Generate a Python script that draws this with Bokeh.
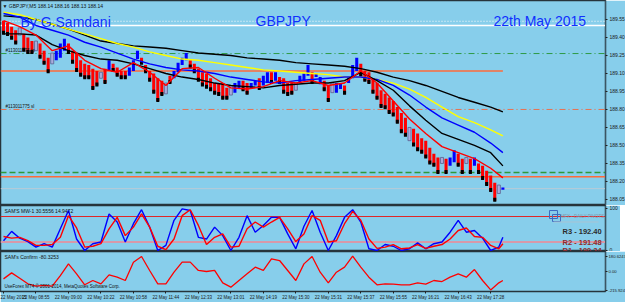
from bokeh.plotting import figure
from bokeh.layouts import column
from bokeh.models import Range1d, FixedTicker, Span, Label, PrintfTickFormatter, ColumnDataSource
from bokeh.embed import file_html
from bokeh.resources import INLINE

# ---------------- data ----------------
symbol = "GBPJPY"
timeframe = "M5"
ohlc_now = [188.14, 188.16, 188.13, 188.14]
author = "By G.Samdani"
date_text = "22th May 2015"

# Heiken-Ashi style body extents (top / bottom of each bar)
body_high = [189.54, 189.52, 189.49, 189.46, 189.48, 189.43, 189.40, 189.37, 189.37, 189.35,
             189.29, 189.23, 189.27, 189.29, 189.35, 189.39, 189.35, 189.29, 189.27, 189.21,
             189.18, 189.17, 189.14, 189.12, 189.11, 189.14, 189.21, 189.18, 189.15, 189.12,
             189.12, 189.15, 189.21, 189.29, 189.23, 189.17, 189.12, 189.10, 189.06, 189.04,
             189.02, 189.08, 189.12, 189.19, 189.23, 189.27, 189.21, 189.18, 189.14, 189.11,
             189.10, 189.06, 189.02, 189.02, 189.02, 188.98, 189.00, 189.02, 189.04, 189.04,
             189.02, 189.02, 189.04, 189.06, 189.08, 189.11, 189.11, 189.11, 189.07, 189.06,
             189.02, 189.02, 189.02, 189.08, 189.10, 189.17, 189.11, 189.10, 189.07, 189.04,
             189.00, 189.02, 189.02, 189.02, 189.00, 189.07, 189.17, 189.23, 189.18, 189.12,
             189.11, 189.06, 189.02, 188.96, 188.93, 188.90, 188.87, 188.82, 188.77, 188.73,
             188.65, 188.64, 188.60, 188.56, 188.54, 188.48, 188.43, 188.40, 188.40, 188.39,
             188.40, 188.46, 188.43, 188.39, 188.40, 188.39, 188.40, 188.35, 188.33, 188.29,
             188.25, 188.19, 188.17, 188.15]
body_low = [189.43, 189.42, 189.39, 189.35, 189.42, 189.29, 189.27, 189.27, 189.29, 189.23,
            189.18, 189.11, 189.18, 189.21, 189.23, 189.29, 189.27, 189.19, 189.12, 189.08,
            189.06, 189.06, 188.97, 189.00, 189.06, 189.02, 189.12, 189.12, 189.08, 189.06,
            189.06, 189.08, 189.12, 189.22, 189.18, 189.11, 189.04, 188.94, 188.87, 188.92,
            188.93, 189.02, 189.06, 189.11, 189.17, 189.21, 189.15, 189.11, 189.04, 189.00,
            188.98, 188.96, 188.93, 188.92, 188.89, 188.89, 188.92, 188.94, 188.97, 188.96,
            188.93, 188.97, 189.00, 188.97, 189.00, 189.02, 189.02, 189.04, 189.02, 188.94,
            188.92, 188.93, 188.96, 189.02, 189.04, 189.08, 189.02, 189.07, 189.01, 188.96,
            188.87, 188.94, 188.94, 188.97, 188.93, 189.02, 189.06, 189.12, 189.08, 189.04,
            189.02, 188.94, 188.89, 188.82, 188.81, 188.77, 188.75, 188.69, 188.61, 188.58,
            188.54, 188.50, 188.46, 188.44, 188.40, 188.35, 188.33, 188.27, 188.35, 188.27,
            188.33, 188.36, 188.33, 188.27, 188.35, 188.27, 188.33, 188.27, 188.22, 188.17,
            188.12, 188.04, 188.10, 188.13]
# r = bearish (red), b = bullish (blue), g = small grey candle
kinds = list("rrrrgrrrgrrrg" "bbb" "rrrrrrrr" "g" "r" "b" "rrrr" "bbb" "rrrrrr" "g" "r" "bbbb"
             "rrrrrrrrrr" "g" "bb" "rr" "bb" "r" "bb" "r" "b" "rrrr" "g" "bbb" "r" "bb" "rr" "g"
             "bb" "r" "bbb" "rrrrrrrrrrrr" "g" "rrrrrrr" "g" "r" "bb" "rr" "g" "r" "b" "rrrrr" "g" "b")

# moving averages, read every 4 bars (plus last bar)
ma_bars = list(range(0, 121, 4)) + [123]
ma_yellow = [189.61, 189.59, 189.55, 189.51, 189.47, 189.43, 189.39, 189.35, 189.32, 189.28,
             189.25, 189.22, 189.21, 189.19, 189.17, 189.15, 189.13, 189.12, 189.11, 189.10,
             189.09, 189.07, 189.07, 189.05, 189.02, 188.97, 188.90, 188.82, 188.74, 188.69,
             188.63, 188.58]
ma_blue = [189.60, 189.57, 189.50, 189.46, 189.42, 189.36, 189.32, 189.27, 189.22, 189.18,
           189.15, 189.13, 189.12, 189.10, 189.07, 189.05, 189.03, 189.02, 189.04, 189.05,
           189.06, 189.07, 189.07, 189.05, 189.00, 188.92, 188.82, 188.73, 188.67, 188.61,
           188.52, 188.44]
ma_black_slow = [189.58, 189.57, 189.55, 189.51, 189.47, 189.42, 189.37, 189.35, 189.33, 189.32,
                 189.31, 189.29, 189.27, 189.26, 189.25, 189.23, 189.22, 189.21, 189.19, 189.18,
                 189.17, 189.16, 189.14, 189.11, 189.07, 189.04, 189.00, 188.95, 188.90, 188.86,
                 188.82, 188.78]
ma_black_fast = [189.43, 189.43, 189.42, 189.34, 189.29, 189.25, 189.22, 189.21, 189.18, 189.14,
                 189.10, 189.07, 189.05, 189.02, 189.00, 188.99, 188.98, 189.00, 189.01, 189.02,
                 189.02, 189.04, 189.11, 189.04, 188.96, 188.83, 188.71, 188.60, 188.55, 188.50,
                 188.44, 188.33]
ma_red = [189.54, 189.49, 189.42, 189.29, 189.33, 189.21, 189.14, 189.11, 189.19, 189.11,
          189.00, 189.14, 189.15, 189.06, 188.98, 188.97, 188.99, 189.04, 189.02, 189.04,
          189.00, 189.02, 189.12, 189.02, 188.87, 188.72, 188.60, 188.49, 188.44, 188.39,
          188.31, 188.23]

# oscillators, read every 2 bars (plus last bar)
osc_bars = list(range(0, 123, 2)) + [123]
mw_fast = [23, 45, 29, 21, 8, 16, 8, 51, 94, 27, 0, 16, 20, 86, 67, 20, 63, 96, 55, 0,
           12, 71, 98, 94, 31, 27, 55, 35, 0, 31, 82, 43, 59, 78, 78, 39, 4, 57, 94, 43,
           0, 35, 78, 96, 67, 4, 0, 14, 10, 0, 4, 18, 4, 16, 20, 43, 71, 43, 47, 29,
           0, 8, 31]
mw_slow = [33, 29, 31, 23, 12, 12, 14, 31, 82, 53, 8, 10, 16, 51, 78, 35, 55, 86, 55, 10,
           2, 27, 82, 96, 59, 14, 31, 39, 8, 10, 51, 67, 55, 67, 78, 51, 21, 39, 82, 71,
           20, 23, 63, 92, 71, 27, 5, 8, 14, 4, 6, 14, 5, 10, 14, 27, 47, 53, 33, 31,
           12, 4, 16]
confirm = [-86, -16, -78, -144, -171, -163, -171, -47, 89, -27, -155, -105, -144, -39, -66, -105,
           109, 175, 12, -144, -144, -8, 109, 109, 12, 0, 12, -132, -183, -105, -27, 51, 12, 148,
           128, 12, -105, 89, 175, -8, -132, -8, 51, 180, 51, -66, -155, -144, -148, -155, -155,
           -132, -148, -105, -117, -66, -27, -66, 23, -105, -215, -132, -105]

price_ticks = [188.05, 188.20, 188.35, 188.50, 188.65, 188.80, 188.95, 189.10, 189.25, 189.40, 189.55]
time_ticks = list(range(0, 121, 8))
time_labels = ["22 May 2015", "22 May 08:55", "22 May 09:00", "22 May 10:22", "22 May 10:58",
               "22 May 11:44", "22 May 12:33", "22 May 13:01", "22 May 14:19", "22 May 15:30",
               "22 May 15:31", "22 May 15:37", "22 May 15:55", "22 May 16:21", "22 May 16:43",
               "22 May 17:28"]

level_white = 189.50
level_dotted = 189.535
level_tp = 189.266
level_orange_top = 189.12
level_sl = 188.80
level_green = 188.275
level_orange = 188.24
level_bid = 188.14
order_label = "#113011775"
mw_levels = [80, 20]
mw_values = [30.5556, 14.9472]
confirm_value = -80.3253
confirm_ticks = [180.6243, 0.0, -215.924]
confirm_tick_labels = ["180.6243", "0.00", "-215.924"]
pivots = [("R3", 192.40), ("R2", 191.48), ("R1", 190.34)]

# ---------------- layout helpers ----------------
BG = "#87CEEB"
FONT = "Liberation Sans"
BLUE_TXT = "#1030ff"
W = 605
BAR_PX = 4.06
X_START = -0.74
X_END = X_START + W / BAR_PX
PRICE_TOP = 189.708
PX_PER_PRICE = 120.0
MAIN_H, P1_H, P2_H = 205, 46, 40


def sx(px):
    return X_START + px / BAR_PX


def sy(py):
    return PRICE_TOP - py / PX_PER_PRICE


def p1y(py):
    return (250 - py) / 0.425


def p2y(py):
    return (271 - py) / 0.0857


xr = Range1d(X_START, X_END)


def make_fig(h, yr, xaxis=False):
    p = figure(frame_width=W, frame_height=h, x_range=xr, y_range=yr,
               output_backend="svg", toolbar_location=None,
               x_axis_location="below" if xaxis else None, y_axis_location="right",
               min_border=0, background_fill_color=BG, border_fill_color=BG,
               outline_line_color="#26343b", outline_line_width=1.5)
    p.grid.visible = False
    for ax in p.axis:
        ax.axis_line_color = "#3b5563"
        ax.axis_line_width = 1
        ax.major_tick_in = 0
        ax.major_tick_out = 2
        ax.major_tick_line_color = "#222222"
        ax.minor_tick_line_color = None
        ax.major_label_text_font = FONT
        ax.major_label_text_font_size = "5px"
        ax.major_label_text_color = "#1a1a1a"
        ax.major_label_standoff = 2
    return p


def lab(p, x, y, text, size, color="#111111", **kw):
    p.add_layout(Label(x=x, y=y, text=text, text_font=FONT, text_font_size=size,
                       text_color=color, text_baseline=kw.pop("baseline", "middle"), **kw))


# ---------------- main price panel ----------------
main = make_fig(MAIN_H, Range1d(PRICE_TOP - MAIN_H / PX_PER_PRICE, PRICE_TOP))
main.yaxis.ticker = FixedTicker(ticks=price_ticks)
main.yaxis.formatter = PrintfTickFormatter(format="%.2f")

for loc, col, wdt, dash in [(level_white, "white", 1.5, "solid"),
                            (level_dotted, "white", 1, "1 2"),
                            (level_tp, "#2e9a46", 1, "6 3 1 3"),
                            (level_sl, "#e8704f", 1, "6 3 1 3"),
                            (level_green, "#2e9a3a", 1.5, "6 3"),
                            (level_orange, "#ff6a3a", 1.5, "solid"),
                            (level_bid, "#b9cbd6", 1, "solid")]:
    main.add_layout(Span(location=loc, dimension="width", line_color=col,
                         line_width=wdt, line_dash=dash, level="underlay"))

n = len(body_high)
main.line([X_START, n - 1], [level_orange_top, level_orange_top], line_color="#ff6a3a", line_width=1.5)

TIP_IN = 3.0 / PX_PER_PRICE
TIP_OUT = 1.0 / PX_PER_PRICE
colors = {"r": "#ff0000", "b": "#0000ff", "g": "#a9acdc"}
for k in "rbg":
    ids = [i for i in range(n) if kinds[i] == k]
    src = ColumnDataSource(dict(x=ids, top=[body_high[i] for i in ids],
                                bottom=[body_low[i] for i in ids]))
    main.vbar(x="x", top="top", bottom="bottom", width=0.75, source=src,
              fill_color=colors[k], line_color="#5a6190" if k == "g" else None, line_width=0.8)
    if k == "r":
        tips = ColumnDataSource(dict(x=ids, top=[body_low[i] + TIP_IN for i in ids],
                                     bottom=[body_low[i] - TIP_OUT for i in ids]))
        main.vbar(x="x", top="top", bottom="bottom", width=0.75, source=tips,
                  fill_color="black", line_color=None)

for series, col in [(ma_black_slow, "black"), (ma_yellow, "#ffff00"), (ma_blue, "#0000ff"),
                    (ma_black_fast, "black"), (ma_red, "#ff0000")]:
    main.line(ma_bars, series, line_color=col, line_width=1.4)

lab(main, sx(2), sy(5.5), "\u25bc " + symbol + "," + timeframe + "  " + " ".join("%.2f" % v for v in ohlc_now),
    "5px")
lab(main, sx(20), sy(21.5), author, "14px", BLUE_TXT, baseline="alphabetic")
lab(main, sx(255), sy(20.5), symbol, "14px", BLUE_TXT, baseline="alphabetic")
lab(main, sx(493), sy(20.5), date_text, "14px", BLUE_TXT, baseline="alphabetic")
lab(main, sx(5), sy(50), order_label + " tp", "4.5px")
lab(main, sx(5), sy(106), order_label + " sl", "4.5px")

for val, bg, fg in [(level_white, "white", "#8fc4e4"), (level_orange, "#ff5a1f", "white"),
                    (level_bid, "black", "white")]:
    main.add_layout(Label(x=sx(606), y=val, text="%.2f" % val, text_font=FONT, text_font_size="5px",
                          text_color=fg, text_baseline="middle", background_fill_color=bg,
                          border_line_color=None))

# ---------------- panel 1 : SAM'S MW-1 ----------------
p1 = make_fig(P1_H, Range1d(p1y(251), p1y(205)))
p1.yaxis.ticker = FixedTicker(ticks=[0, 100])
p1.add_layout(Span(location=mw_levels[0], dimension="width", line_color="#e02828",
                   line_width=1, level="underlay"))
p1.add_layout(Span(location=mw_levels[1], dimension="width", line_color="#d799a9",
                   line_width=2, level="underlay"))
p1.line(osc_bars, mw_fast, line_color="#0000ff", line_width=1.4)
p1.line(osc_bars, mw_slow, line_color="#ff0000", line_width=1.4)
lab(p1, sx(4), p1y(210), "SAM'S MW-1 %.4f %.4f" % tuple(mw_values), "5px")

p1.quad(left=[sx(549), sx(552)], right=[sx(557), sx(560)], top=[p1y(210), p1y(214)],
        bottom=[p1y(218), p1y(221)], fill_color=None, line_color="#3d6cc0", line_width=1)
p1.line([sx(553), sx(598)], [p1y(221.5), p1y(221.5)], line_color="#a9c3d3", line_width=1)
lab(p1, sx(560), p1y(215.5), "MFX - DAILY PIVOTS", "4.5px", "#8197a8")
piv_colors = ["#2b2b2b", "#8e2a2a", "#8e2a2a"]
piv_y = [231, 241.5, 250]
for (nm, v), c, yy in zip(pivots, piv_colors, piv_y):
    lab(p1, sx(562), p1y(yy), "%s - %.2f" % (nm, v), "7.5px", c, text_font_style="bold")

for lv in mw_levels:
    p1.add_layout(Label(x=sx(606), y=lv, text=str(lv), text_font=FONT, text_font_size="4px",
                        text_color="white", text_baseline="middle", background_fill_color="#e8323a"))

# ---------------- panel 2 : SAM's Confirm ----------------
p2 = make_fig(P2_H, Range1d(p2y(291), p2y(251)), xaxis=True)
p2.yaxis.ticker = FixedTicker(ticks=confirm_ticks)
p2.yaxis.major_label_overrides = dict(zip(confirm_ticks, confirm_tick_labels))
p2.yaxis.major_label_text_font_size = "4.2px"
p2.yaxis.major_label_standoff = 1
p2.xaxis.ticker = FixedTicker(ticks=time_ticks)
p2.xaxis.major_label_overrides = dict(zip(time_ticks, time_labels))
p2.xaxis.major_label_text_font_size = "4.5px"
p2.xaxis.major_label_text_align = "left"
p2.xaxis.major_label_standoff = 1
p2.xaxis.axis_line_color = "#26343b"
p2.line(osc_bars, confirm, line_color="#ff0000", line_width=1.3)
lab(p2, sx(4), p2y(256.5), "SAM's Confirm %.4f" % confirm_value, "5px")
lab(p2, sx(4), p2y(286), "UseForex MT4 \u00a9 2001-2014, MetaQuotes Software Corp.", "4.5px")

layout = column(main, p1, p2, spacing=0)
open("out.html", "w").write(file_html(layout, INLINE))
